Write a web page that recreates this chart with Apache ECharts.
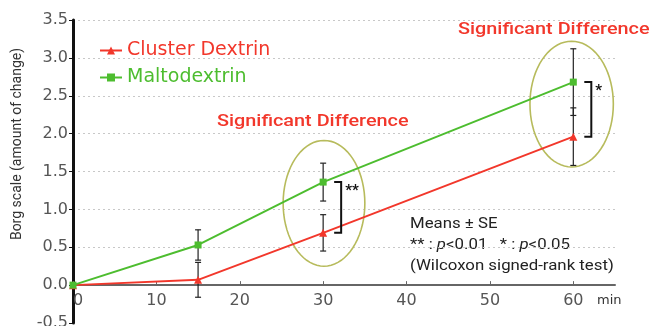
<!DOCTYPE html>
<html>
<head>
<meta charset="utf-8">
<script src="https://cdn.jsdelivr.net/npm/echarts@6/dist/echarts.min.js"></script>
<style>
  html, body { margin: 0; padding: 0; background: #fff; }
  #chart { width: 651px; height: 326px; }
</style>
</head>
<body>
<div id="chart"></div>
<script>
// time points (min)
const times = [0, 15, 30, 60];
// means
const clusterDextrin = [0, 0.07, 0.69, 1.96];
const maltodextrin = [0, 0.53, 1.36, 2.68];
// standard errors
const clusterSE = [0, 0.23, 0.24, 0.38];
const maltoSE = [0, 0.2, 0.25, 0.44];
// significance brackets: [time, label]
const sigTimes = [30, 60];
const sigLabels = ["**", "*"];
// ellipse marks around significant points: [x, y, rx, ry] in data units
const ellipses = [
  [30.1, 1.08, 4.9, 0.83],
  [59.8, 2.39, 5.0, 0.83],
];

const RED = "#f2372b";
const GREEN = "#4dbd2f";
const FONT = "Roboto";
const WIDE = "DejaVu Sans";

const GRID_TOP = 20;
const GRID_BOTTOM = 3;
const Y_MIN = -0.5;
const Y_MAX = 3.5;
// x axis sits on y = 0, so lift it from the grid bottom by that distance
const plotH = 326 - GRID_TOP - GRID_BOTTOM;
const xAxisOffset = -plotH * (0 - Y_MIN) / (Y_MAX - Y_MIN);

function errData(means, se) {
  return times.map((t, i) => [t, means[i] - se[i], means[i] + se[i]]);
}

function renderErr(params, api) {
  const x = api.value(0);
  const lo = api.coord([x, api.value(1)]);
  const hi = api.coord([x, api.value(2)]);
  const style = { stroke: "#222", lineWidth: 1.2 };
  return {
    type: "group",
    children: [
      { type: "line", shape: { x1: lo[0], y1: lo[1], x2: hi[0], y2: hi[1] }, style },
      { type: "line", shape: { x1: lo[0] - 3, y1: lo[1], x2: lo[0] + 3, y2: lo[1] }, style },
      { type: "line", shape: { x1: hi[0] - 3, y1: hi[1], x2: hi[0] + 3, y2: hi[1] }, style },
    ],
  };
}

const bracketData = sigTimes.map((t, i) => {
  const k = times.indexOf(t);
  return [t, clusterDextrin[k], maltodextrin[k], sigLabels[i]];
});

function renderBracket(params, api) {
  const x = api.value(0);
  const lo = api.coord([x, api.value(1)]);
  const hi = api.coord([x, api.value(2)]);
  const bx = lo[0] + 18;
  const style = { stroke: "#111", lineWidth: 2, fill: null };
  return {
    type: "group",
    children: [
      {
        type: "polyline",
        shape: { points: [[bx - 7, hi[1]], [bx, hi[1]], [bx, lo[1]], [bx - 7, lo[1]]] },
        style,
      },
      {
        type: "text",
        style: {
          text: api.value(3),
          x: bx + 4,
          y: hi[1] + 2,
          fill: "#111",
          font: "bold 15px " + FONT,
          textVerticalAlign: "top",
        },
      },
    ],
  };
}

function renderEllipse(params, api) {
  const c = api.coord([api.value(0), api.value(1)]);
  const e = api.coord([api.value(0) + api.value(2), api.value(1) + api.value(3)]);
  const rx = Math.abs(e[0] - c[0]);
  const ry = Math.abs(c[1] - e[1]);
  const pts = [];
  for (let i = 0; i < 72; i++) {
    const a = (i / 72) * Math.PI * 2;
    pts.push([c[0] + rx * Math.cos(a), c[1] + ry * Math.sin(a)]);
  }
  return {
    type: "polygon",
    shape: { points: pts },
    style: { stroke: "#b7bb5c", lineWidth: 1.6, fill: null },
  };
}

const chart = echarts.init(document.getElementById("chart"));
chart.setOption({
  animation: false,
  textStyle: { fontFamily: FONT },
  grid: {
    left: 73,
    right: 36,
    top: GRID_TOP,
    bottom: GRID_BOTTOM,
    containLabel: false,
    outerBoundsMode: "none",
  },
  legend: {
    orient: "vertical",
    left: 94,
    top: 36,
    itemGap: 8,
    itemWidth: 22,
    itemHeight: 10,
    textStyle: { fontSize: 19, fontFamily: WIDE },
    data: [
      { name: "Cluster Dextrin", textStyle: { color: RED } },
      { name: "Maltodextrin", textStyle: { color: GREEN } },
    ],
  },
  xAxis: {
    type: "value",
    min: 0,
    max: 65,
    interval: 10,
    position: "bottom",
    offset: xAxisOffset,
    name: "min",
    nameLocation: "end",
    nameGap: -18,
    nameTextStyle: {
      color: "#333",
      fontSize: 13,
      fontFamily: WIDE,
      verticalAlign: "top",
      padding: [9, 0, 0, 0],
    },
    axisLine: { onZero: false, lineStyle: { color: "#666", width: 2 } },
    axisTick: { show: true, inside: true, length: 4, lineStyle: { color: "#666" } },
    axisLabel: {
      color: "#555",
      fontSize: 16,
      fontFamily: WIDE,
      margin: 8,
      showMaxLabel: false,
      alignMinLabel: "left",
      formatter: (v) => (v % 10 === 0 ? String(v) : ""),
    },
    splitLine: { show: false },
  },
  yAxis: {
    type: "value",
    min: Y_MIN,
    max: Y_MAX,
    interval: 0.5,
    axisLine: { show: true, lineStyle: { color: "#111", width: 3 } },
    axisTick: { show: true, length: 4, lineStyle: { color: "#111" } },
    axisLabel: {
      color: "#555",
      fontSize: 16,
      fontFamily: WIDE,
      margin: 5,
      formatter: (v) => v.toFixed(1),
    },
    splitLine: {
      show: true,
      showMinLine: false,
      lineStyle: { color: "#c8c8c8", type: [2, 3], width: 1.2 },
    },
  },
  series: [
    {
      name: "Cluster Dextrin",
      type: "line",
      data: times.map((t, i) => [t, clusterDextrin[i]]),
      symbol: "triangle",
      symbolSize: 8,
      lineStyle: { color: RED, width: 2 },
      itemStyle: { color: RED },
      z: 3,
    },
    {
      name: "Maltodextrin",
      type: "line",
      data: times.map((t, i) => [t, maltodextrin[i]]),
      symbol: "rect",
      symbolSize: 7,
      lineStyle: { color: GREEN, width: 2 },
      itemStyle: { color: GREEN },
      z: 3,
    },
    {
      type: "custom",
      renderItem: renderErr,
      data: errData(clusterDextrin, clusterSE).slice(1),
      z: 2,
    },
    {
      type: "custom",
      renderItem: renderErr,
      data: errData(maltodextrin, maltoSE).slice(1),
      z: 2,
    },
    { type: "custom", renderItem: renderBracket, data: bracketData, z: 4 },
    { type: "custom", renderItem: renderEllipse, data: ellipses, z: 1 },
  ],
  graphic: [
    {
      type: "text",
      x: 17,
      y: 144,
      rotation: Math.PI / 2,
      style: {
        text: "Borg scale (amount of change)",
        fill: "#333",
        font: "14px " + FONT,
        textAlign: "center",
        textVerticalAlign: "middle",
      },
    },
    {
      type: "text",
      x: 217,
      y: 114,
      scaleX: 1.24,
      style: { text: "Significant Difference", fill: RED, font: "500 16px " + FONT },
    },
    {
      type: "text",
      x: 458,
      y: 22,
      scaleX: 1.24,
      style: { text: "Significant Difference", fill: RED, font: "500 16px " + FONT },
    },
    {
      type: "text",
      x: 410,
      y: 214,
      scaleX: 1.2,
      style: {
        text: "Means ± SE\n{s|**} : {i|p}<0.01   {s|*} : {i|p}<0.05\n(Wilcoxon signed-rank test)",
        fill: "#222",
        font: "14px " + FONT,
        lineHeight: 21,
        rich: {
          i: { fontStyle: "italic", fontSize: 14, fill: "#222", fontFamily: FONT },
          s: { fontSize: 14, fill: "#222", fontFamily: FONT },
        },
      },
    },
  ],
});
</script>
</body>
</html>
